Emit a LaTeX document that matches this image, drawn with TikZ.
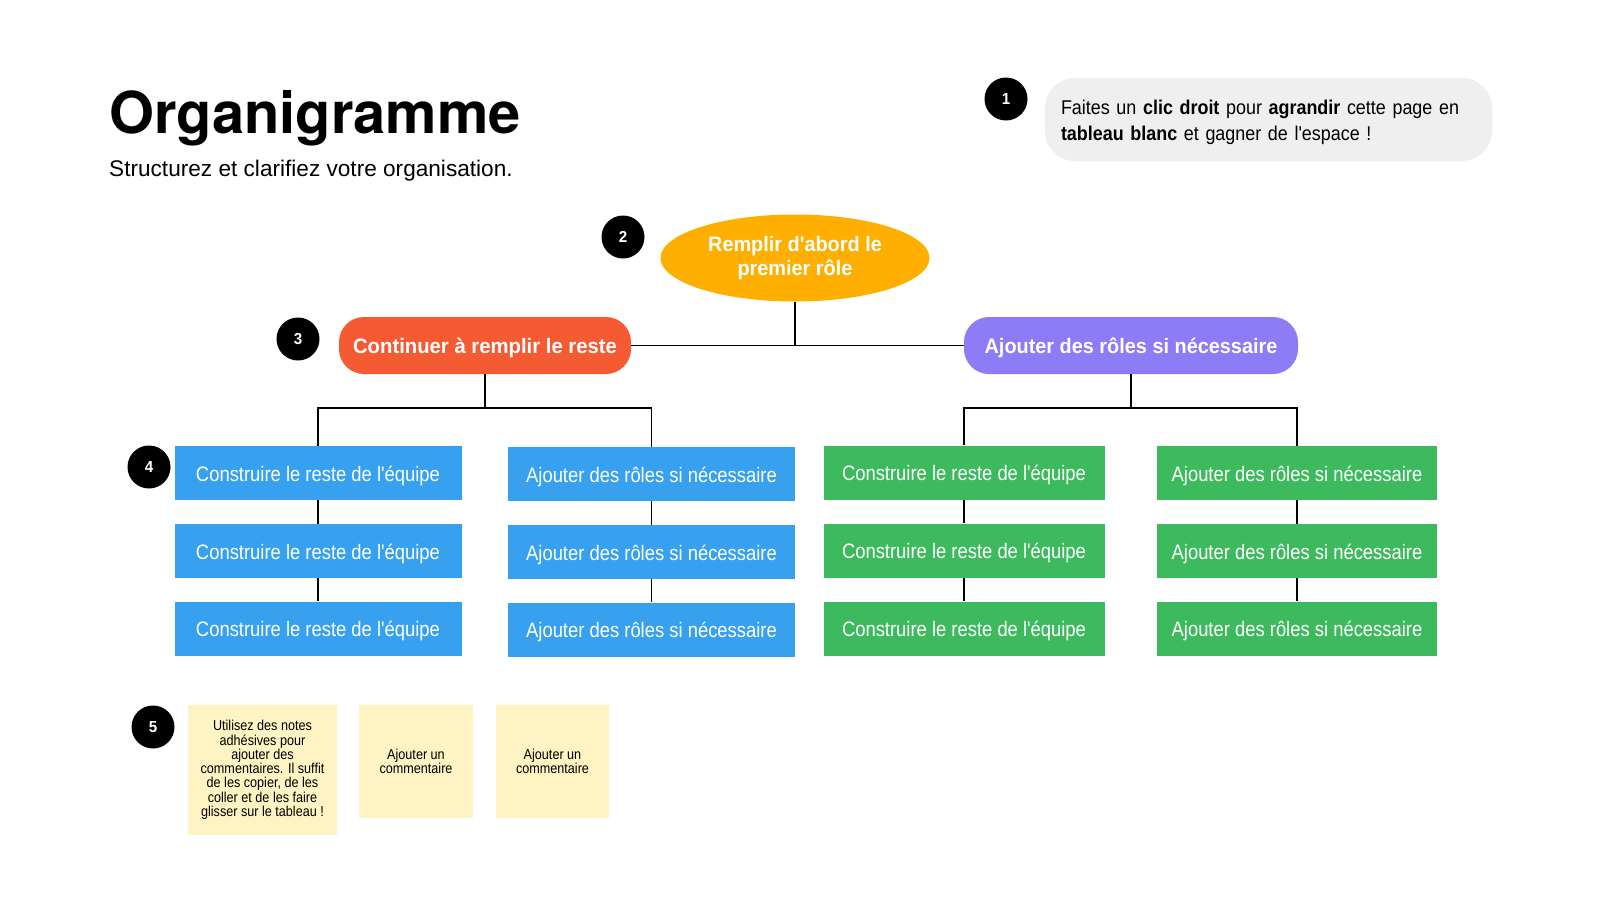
\documentclass[tikz,border=0pt]{standalone}
\usepackage{fontspec}
\setmainfont{Liberation Sans}
\newfontfamily\narfont[FakeStretch=0.88]{Liberation Sans}
\newfontfamily\bnarfont[FakeStretch=0.95]{Liberation Sans}
\newfontfamily\bredfont[FakeStretch=0.97]{Liberation Sans}
\newfontfamily\notefont[FakeStretch=0.9]{Liberation Sans}
\newfontfamily\titlefont{TeX Gyre Heros}
\usetikzlibrary{shapes.geometric}
\definecolor{cOrange}{HTML}{FFAF00}
\definecolor{cRed}{HTML}{F55B33}
\definecolor{cPurple}{HTML}{8E7BF6}
\definecolor{cBlue}{HTML}{37A1EF}
\definecolor{cGreen}{HTML}{3DBA5E}
\definecolor{cSticky}{HTML}{FEF3C2}
\definecolor{cGray}{HTML}{EFEFEF}
\tikzset{
  numdot/.style={circle, fill=black, text=white, minimum size=43bp, inner sep=0pt,
    font=\bnarfont\bfseries\fontsize{16}{18}\selectfont},
  pill/.style={rounded corners=25bp, text=white, inner sep=0pt, minimum height=57bp,
    text height=16bp, text depth=0bp},
  leaf/.style={rectangle, text=white, inner sep=0pt, minimum height=54bp,
    text height=16bp, text depth=0bp,
    font=\narfont\fontsize{21}{24}\selectfont},
  bluebox/.style={leaf, fill=cBlue, minimum width=287bp},
  greenbox/.style={leaf, fill=cGreen, minimum width=281bp},
  sticky/.style={rectangle, fill=cSticky, inner sep=0pt, align=center,
    font=\narfont\fontsize{14.4}{14.3}\selectfont},
  link/.style={draw=black, line width=1.8bp},
}
\begin{document}
\begin{tikzpicture}[x=1bp, y=-1bp]
\useasboundingbox[fill=white] (0,0) rectangle (1600,900);

% title
\node[anchor=base west, inner sep=0pt, font=\titlefont\bfseries\fontsize{58}{60}\selectfont] (title) at (109,133) {Organigramme};
\node[anchor=base west, inner sep=0pt, font=\fontsize{22.7}{26}\selectfont] (subtitle) at (109,176) {Structurez et clarifiez votre organisation.};

% info bubble
\node[numdot] (n1) at (1006,99) {1};
\node[rectangle, rounded corners=30bp, fill=cGray, minimum width=447bp, minimum height=83bp,
  inner sep=0pt] (info) at (1268.5,119.5) {};
\node[inner sep=0pt, text width=415bp, align=left,
  font=\notefont\fontsize{20}{26}\selectfont] (infotext) at (1268.5,122.5)
  {Faites un \textbf{clic droit} pour \textbf{agrandir} cette page en\\\textbf{tableau blanc} et gagner de l'espace !};

% top
\node[numdot] (n2) at (623,237) {2};
\node[ellipse, fill=cOrange, text=white, minimum width=269bp, minimum height=87bp, inner sep=0pt,
  align=center, font=\bnarfont\bfseries\fontsize{21}{24.5}\selectfont] (top) at (795,258)
  {Remplir d'abord le\\premier rôle};

\node[numdot] (n3) at (298,339) {3};
\node[pill, fill=cRed, minimum width=292bp, font=\bredfont\bfseries\fontsize{21}{24}\selectfont] (red) at (485,345.5) {Continuer à remplir le reste};
\node[pill, fill=cPurple, minimum width=334bp, font=\bnarfont\bfseries\fontsize{21}{24}\selectfont] (purple) at (1131,345.5) {Ajouter des rôles si nécessaire};

% leaves
\node[numdot] (n4) at (149,467) {4};
\node[bluebox] (b11) at (318,473) {Construire le reste de l'équipe};
\node[bluebox] (b12) at (318,551) {Construire le reste de l'équipe};
\node[bluebox] (b13) at (318,628.5) {Construire le reste de l'équipe};
\node[bluebox] (b21) at (651.5,474) {Ajouter des rôles si nécessaire};
\node[bluebox] (b22) at (651.5,552) {Ajouter des rôles si nécessaire};
\node[bluebox] (b23) at (651.5,629.5) {Ajouter des rôles si nécessaire};
\node[greenbox] (g11) at (964,472.5) {Construire le reste de l'équipe};
\node[greenbox] (g12) at (964,550.5) {Construire le reste de l'équipe};
\node[greenbox] (g13) at (964,628.5) {Construire le reste de l'équipe};
\node[greenbox, minimum width=280bp] (g21) at (1297,473) {Ajouter des rôles si nécessaire};
\node[greenbox, minimum width=280bp] (g22) at (1297,551) {Ajouter des rôles si nécessaire};
\node[greenbox, minimum width=280bp] (g23) at (1297,628.5) {Ajouter des rôles si nécessaire};

% connectors
\coordinate (jtop) at (top.south |- red.east);
\draw[link] (top.south) -- (jtop);
\draw[link] (red.east) -- (purple.west);
\coordinate (jl) at (485,408);
\coordinate (jr) at (1131,408);
\draw[link] (red.south) -- (jl);
\draw[link] (b11.north) -- (b11.north |- jl) -- (b21.north |- jl) -- (b21.north);
\draw[link] (purple.south) -- (jr);
\draw[link] (g11.north) -- (g11.north |- jr) -- (g21.north |- jr) -- (g21.north);
\draw[link] (b11.south) -- (b12.north);
\draw[link] (b12.south) -- (b13.north);
\draw[link] (b21.south) -- (b22.north);
\draw[link] (b22.south) -- (b23.north);
\draw[link] (g11.south) -- (g12.north);
\draw[link] (g12.south) -- (g13.north);
\draw[link] (g21.south) -- (g22.north);
\draw[link] (g22.south) -- (g23.north);

% sticky notes
\node[numdot] (n5) at (153,727) {5};
\node[sticky, minimum width=149bp, minimum height=130bp] (s1) at (262.5,770)
  {Utilisez des notes\\adhésives pour\\ajouter des\\commentaires. Il suffit\\de les copier, de les\\coller et de les faire\\glisser sur le tableau !};
\node[sticky, minimum width=114bp, minimum height=113bp] (s2) at (416,761.5) {Ajouter un\\commentaire};
\node[sticky, minimum width=113bp, minimum height=113bp] (s3) at (552.5,761.5) {Ajouter un\\commentaire};
\end{tikzpicture}
\end{document}
